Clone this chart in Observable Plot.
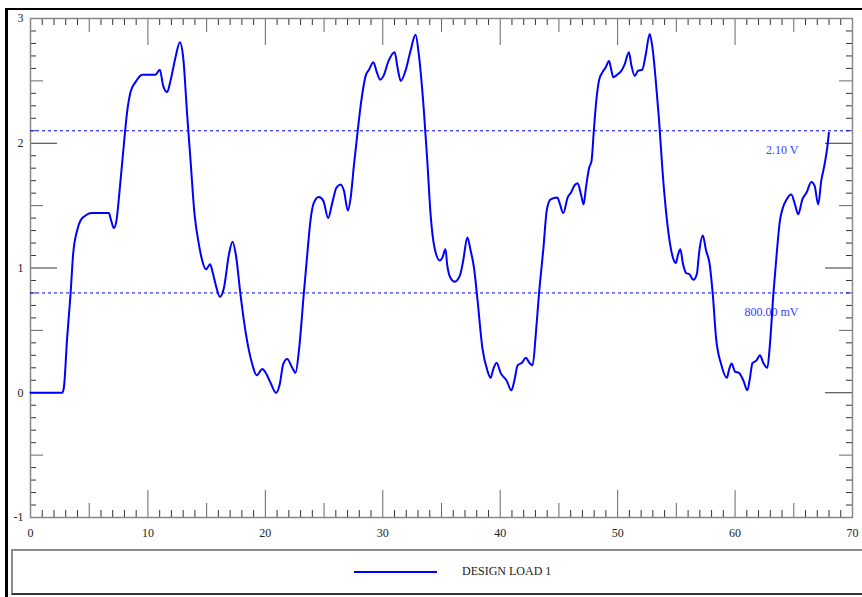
<!DOCTYPE html>
<html>
<head>
<meta charset="utf-8">
<script src="https://cdn.jsdelivr.net/npm/d3@7"></script>
<script src="https://cdn.jsdelivr.net/npm/@observablehq/plot@0.6"></script>
<style>
  html, body { margin: 0; padding: 0; background: #ffffff; }
  body { width: 862px; height: 597px; position: relative; overflow: hidden; font-family: "Liberation Serif", serif; }
  #outer { position: absolute; left: 5px; top: 8px; width: 860px; height: 600px; border-left: 3px solid #000; border-top: 2px solid #000; box-sizing: border-box; }
  #chart { position: absolute; left: 0; top: 0; }
  #legend { position: absolute; left: 11px; top: 549px; width: 860px; height: 46px; box-sizing: border-box;
            border-top: 2px solid #8a8a8a; border-left: 2px solid #8a8a8a; border-bottom: 2px solid #333; background: #fff; }
  #legend .swatch { position: absolute; left: 341px; top: 20px; width: 83px; height: 2px; background: #0000ff; }
  #legend .label { position: absolute; left: 449px; top: 12px; font-family: "Liberation Serif", serif; font-size: 12px; color: #222; line-height: 16px; }
</style>
</head>
<body>
<div id="outer"></div>
<div id="chart"></div>
<div id="legend"><div class="swatch"></div><div class="label" id="legendLabel"></div></div>
<script>
// ---- data ----
const seriesName = "DESIGN LOAD 1";
const timeX = [
  0, 2.70, 2.84, 3.12, 3.41, 3.63, 3.97, 4.26, 4.83, 5.25, 6.67, 6.87, 7.10, 7.32,
  7.61, 7.95, 8.24, 8.52, 8.94, 9.51, 10.64, 11.01, 11.30, 11.64, 11.92, 12.35, 12.72, 13.00,
  13.34, 13.63, 13.97, 14.34, 14.62, 14.95, 15.30, 15.50, 15.76, 16.13, 16.47, 16.90, 17.20, 17.48, 17.88,
  18.17, 18.60, 18.88, 19.26, 19.74, 20.03, 20.44, 20.92, 21.23, 21.52, 21.86, 22.29, 22.57,
  22.86, 23.27, 23.57, 23.84, 24.12, 24.54, 24.93, 25.35, 25.69, 26.06, 26.41, 26.69, 27.03, 27.26,
  27.55, 27.83, 28.17, 28.54, 28.83, 29.20, 29.49, 29.78, 30.06, 30.49, 31.01, 31.25, 31.53, 31.93, 32.36, 32.79, 33.07,
  33.50, 33.79, 34.07, 34.41, 34.86, 35.06, 35.34, 35.48, 35.77, 36.13, 36.57, 36.85, 37.20, 37.48, 37.77, 38.05,
  38.48, 38.90, 39.19, 39.38, 39.69, 40.05, 40.53, 40.95, 41.21, 41.48, 41.85, 42.19, 42.48, 42.76, 43.03, 43.30,
  43.68, 43.96, 44.29, 44.86, 45.06, 45.37, 45.74, 46.03, 46.31, 46.59, 46.88, 47.10, 47.30, 47.58, 47.78, 47.95,
  48.15, 48.43, 48.71, 48.99, 49.27, 49.41, 49.63, 49.97, 50.31, 50.59, 50.96, 51.16, 51.45, 51.73, 52.10, 52.39, 52.73, 52.96,
  53.24, 53.53, 53.82, 54.18, 54.47, 54.75, 54.95, 55.15, 55.34, 55.55, 55.83, 56.11, 56.45, 56.74, 56.96, 57.25, 57.53, 57.82, 58.10,
  58.38, 58.81, 59.30, 59.50, 59.71, 59.99, 60.33, 60.70, 61.05, 61.27, 61.47, 61.83, 62.12, 62.40, 62.75, 62.97,
  63.26, 63.54, 63.82, 64.03, 64.39, 64.79, 65.10, 65.38, 65.73, 66.09, 66.49, 66.77, 67.08, 67.34, 67.62, 67.85, 67.99
];
const voltage = [
  0, 0, 0.04, 0.44, 0.79, 1.11, 1.30, 1.38, 1.43, 1.44, 1.44, 1.38, 1.32, 1.38,
  1.645, 1.99, 2.26, 2.41, 2.49, 2.55, 2.55, 2.59, 2.46, 2.41, 2.50, 2.69, 2.81, 2.69,
  2.23, 1.86, 1.43, 1.19, 1.06, 0.99, 1.03, 0.97, 0.87, 0.77, 0.84, 1.11, 1.21, 1.11, 0.79,
  0.58, 0.34, 0.23, 0.14, 0.19, 0.16, 0.08, 0.00, 0.07, 0.23, 0.27, 0.20, 0.16,
  0.34, 0.79, 1.11, 1.38, 1.52, 1.57, 1.54, 1.40, 1.52, 1.645, 1.67, 1.62, 1.46, 1.56,
  1.83, 2.07, 2.34, 2.54, 2.59, 2.65, 2.57, 2.51, 2.54, 2.66, 2.73, 2.61, 2.50, 2.58, 2.74, 2.87, 2.71,
  2.26, 1.86, 1.43, 1.16, 1.06, 1.08, 1.15, 1.03, 0.92, 0.89, 0.94, 1.06, 1.245, 1.14, 1.00, 0.76,
  0.36, 0.18, 0.12, 0.18, 0.24, 0.155, 0.10, 0.02, 0.10, 0.22, 0.24, 0.28, 0.24, 0.22, 0.47, 0.79,
  1.16, 1.46, 1.55, 1.565, 1.52, 1.44, 1.565, 1.605, 1.66, 1.68, 1.59, 1.51, 1.645, 1.805, 1.86, 2.07,
  2.31, 2.51, 2.57, 2.61, 2.66, 2.61, 2.53, 2.55, 2.58, 2.63, 2.73, 2.63, 2.54, 2.58, 2.59, 2.71, 2.875, 2.77,
  2.51, 2.18, 1.78, 1.40, 1.19, 1.07, 1.04, 1.11, 1.15, 1.04, 0.96, 0.95, 0.905, 0.95, 1.14, 1.26, 1.14, 1.04, 0.79,
  0.44, 0.23, 0.12, 0.19, 0.235, 0.17, 0.16, 0.10, 0.02, 0.12, 0.235, 0.26, 0.30, 0.24, 0.20, 0.39,
  0.79, 1.11, 1.38, 1.47, 1.55, 1.59, 1.51, 1.43, 1.55, 1.605, 1.69, 1.66, 1.51, 1.70, 1.83, 1.965, 2.085
];
const thresholdValues = [2.1, 0.8];
const thresholdLabels = ["2.10 V", "800.00 mV"];
const xTickLabels = [0, 10, 20, 30, 40, 50, 60, 70];
const yTickLabels = [3, 2, 1, 0, -1];
const xDomain = [0, 70];
const yDomain = [-1, 3];

// ---- build ----
const signal = timeX.map((x, i) => ({x, y: voltage[i]}));
const thresholds = thresholdValues.map((v, i) => ({v, label: thresholdLabels[i]}));

const xAll = d3.range(0, 71, 1);
const xMajor = xAll.filter(d => d % 10 === 0);
const xMid = xAll.filter(d => d % 10 === 5);
const xMinor = xAll.filter(d => d % 5 !== 0);
const yAll = d3.range(-10, 31, 1).map(d => d / 10);
const yMajor = yAll.filter(d => Number.isInteger(d));
const yMid = yAll.filter(d => Math.abs(d * 10) % 10 === 5);
const yMinor = yAll.filter(d => !Number.isInteger(d) && Math.abs(d * 10) % 10 !== 5);

function xTicks(vals, len, color) {
  return [
    Plot.ruleX(vals, {x: d => d, y1: yDomain[0], y2: yDomain[0], insetTop: -len, stroke: color}),
    Plot.ruleX(vals, {x: d => d, y1: yDomain[1], y2: yDomain[1], insetBottom: -len, stroke: color})
  ];
}
function yTicks(vals, len, color) {
  return [
    Plot.ruleY(vals, {y: d => d, x1: xDomain[0], x2: xDomain[0], insetRight: -len, stroke: color}),
    Plot.ruleY(vals, {y: d => d, x1: xDomain[1], x2: xDomain[1], insetLeft: -len, stroke: color})
  ];
}

const chart = Plot.plot({
  width: 862,
  height: 545,
  marginLeft: 30,
  marginRight: 10,
  marginTop: 18,
  marginBottom: 28,
  x: {domain: xDomain, axis: null},
  y: {domain: yDomain, axis: null},
  style: {background: "transparent", fontFamily: "Liberation Serif, serif", fontSize: "12px", overflow: "visible"},
  marks: [
    ...xTicks(xMajor, 27, "#666"),
    ...xTicks(xMid, 14, "#666"),
    ...xTicks(xMinor, 7, "#333"),
    ...yTicks(yMajor, 27, "#333"),
    ...yTicks(yMid, 13, "#666"),
    ...yTicks(yMinor, 6, "#333"),
    Plot.frame({stroke: "#888", strokeWidth: 1.5}),
    Plot.ruleY(thresholds, {y: "v", x1: xDomain[0], x2: xDomain[1], stroke: "#0000ff", strokeDasharray: "3,3", strokeWidth: 1}),
    Plot.text(thresholds, {x: 65.4, y: "v", text: "label", dy: 19, fill: "#3a3aff", fontSize: 12, textAnchor: "end"}),
    Plot.line(signal, {x: "x", y: "y", stroke: "#0000ff", strokeWidth: 2, curve: "monotone-x"}),
    Plot.text(xTickLabels, {x: d => d, y: yDomain[0], dy: 16, text: d => String(d), fill: "#222", fontSize: 12, textAnchor: "middle"}),
    Plot.text(yTickLabels, {x: xDomain[0], y: d => d, dx: -7, text: d => String(d), fill: "#222", fontSize: 12, textAnchor: "end"})
  ]
});
document.getElementById("chart").appendChild(chart);
document.getElementById("legendLabel").textContent = seriesName;
</script>
</body>
</html>
